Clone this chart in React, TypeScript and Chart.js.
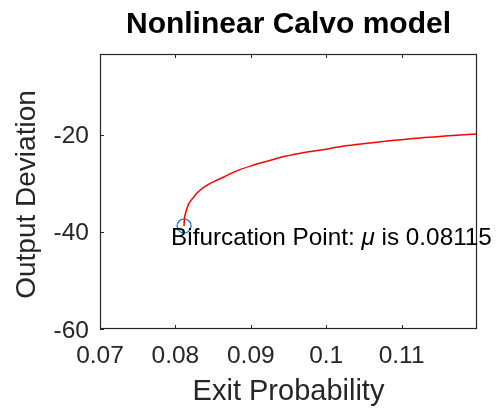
import React, { useEffect, useRef } from "react";
import { Chart, registerables } from "chart.js";

Chart.register(...registerables);

const exitProbability = [
  0.08115, 0.08117, 0.08135, 0.08157, 0.0818, 0.0823, 0.0829, 0.0838, 0.0851,
  0.0865, 0.0882, 0.0904, 0.0924, 0.094, 0.0966, 0.0993, 0.1024, 0.1055,
  0.109, 0.1116, 0.1147, 0.1178, 0.12,
];
const outputDeviation = [
  -38.76, -37.9, -36.1, -35.0, -34.1, -33.05, -31.9, -30.75, -29.6, -28.6,
  -27.35, -26.2, -25.3, -24.6, -23.77, -23.1, -22.27, -21.7, -21.1, -20.7,
  -20.35, -20.0, -19.8,
];
const bifurcationX = [0.08115];
const bifurcationY = [-38.76];
const xTicks = [0.07, 0.08, 0.09, 0.1, 0.11];
const xTickLabels = ["0.07", "0.08", "0.09", "0.1", "0.11"];
const yTicks = [-60, -40, -20];
const yTickLabels = ["-60", "-40", "-20"];
const titleText = "Nonlinear Calvo model";
const xLabel = "Exit Probability";
const yLabel = "Output Deviation";

const FONT = '"Liberation Sans", Arial, Helvetica, sans-serif';

const decorPlugin = {
  id: "decor",
  afterDraw(chart: any) {
    const { ctx, chartArea } = chart;
    const xs = chart.scales.x;
    const ys = chart.scales.y;
    const { left, right, top, bottom } = chartArea;
    ctx.save();
    // box
    ctx.strokeStyle = "#262626";
    ctx.lineWidth = 1.2;
    ctx.strokeRect(left + 0.5, top + 0.5, right - left - 1, bottom - top - 1);
    // ticks
    ctx.lineWidth = 1;
    ctx.beginPath();
    xTicks.forEach((v) => {
      const px = Math.round(xs.getPixelForValue(v)) + 0.5;
      ctx.moveTo(px, bottom);
      ctx.lineTo(px, bottom - 4);
      ctx.moveTo(px, top);
      ctx.lineTo(px, top + 4);
    });
    yTicks.forEach((v) => {
      const py = Math.round(ys.getPixelForValue(v)) + 0.5;
      ctx.moveTo(left, py);
      ctx.lineTo(left + 4, py);
    });
    ctx.stroke();

    // tick labels
    ctx.fillStyle = "#262626";
    ctx.font = `24.5px ${FONT}`;
    ctx.textBaseline = "alphabetic";
    ctx.textAlign = "center";
    xTicks.forEach((v, i) => {
      ctx.fillText(xTickLabels[i], xs.getPixelForValue(v), 363);
    });
    ctx.textAlign = "right";
    yTicks.forEach((v, i) => {
      ctx.fillText(yTickLabels[i], left - 11, ys.getPixelForValue(v) + 8.5);
    });

    // axis labels
    ctx.font = `29px ${FONT}`;
    ctx.textAlign = "center";
    ctx.fillText(xLabel, (left + right) / 2, 400);
    ctx.save();
    ctx.font = `28px ${FONT}`;
    ctx.translate(35, (top + bottom) / 2 + 3);
    ctx.rotate(-Math.PI / 2);
    ctx.fillText(yLabel, 0, 0);
    ctx.restore();

    // title
    ctx.fillStyle = "#000";
    ctx.font = `bold 30px ${FONT}`;
    ctx.fillText(titleText, (left + right) / 2, 33);

    // annotation
    const bx = xs.getPixelForValue(bifurcationX[0]);
    const by = ys.getPixelForValue(bifurcationY[0]);
    let tx = bx - 13;
    const ty = by + 19;
    ctx.textAlign = "left";
    const parts: [string, string][] = [
      ["Bifurcation Point: ", `24.3px ${FONT}`],
      ["\u03bc", `italic 24.3px ${FONT}`],
      [" is " + bifurcationX[0].toString(), `24.3px ${FONT}`],
    ];
    parts.forEach(([t, f]) => {
      ctx.font = f;
      ctx.fillText(t, tx, ty);
      tx += ctx.measureText(t).width;
    });
    ctx.restore();
  },
};

export default function App() {
  const ref = useRef<HTMLCanvasElement | null>(null);
  useEffect(() => {
    if (!ref.current) return;
    const chart = new Chart(ref.current, {
      type: "scatter",
      data: {
        datasets: [
          {
            data: exitProbability.map((x, i) => ({ x, y: outputDeviation[i] })),
            showLine: true,
            borderColor: "#ff0000",
            borderWidth: 1.5,
            pointRadius: 0,
            cubicInterpolationMode: "monotone",
          },
          {
            data: bifurcationX.map((x, i) => ({ x, y: bifurcationY[i] })),
            pointRadius: 7,
            pointStyle: "circle",
            borderColor: "#0072BD",
            backgroundColor: "rgba(0,0,0,0)",
            borderWidth: 1.2,
          },
        ],
      },
      options: {
        animation: false,
        responsive: true,
        maintainAspectRatio: false,
        layout: { padding: { left: 100, right: 20, top: 54, bottom: 79 } },
        plugins: {
          legend: { display: false },
          tooltip: { enabled: false },
        },
        scales: {
          x: { type: "linear", display: false, min: 0.07, max: 0.12 },
          y: { type: "linear", display: false, min: -60, max: -3.3 },
        },
      },
      plugins: [decorPlugin],
    });
    return () => chart.destroy();
  }, []);
  return (
    <div style={{ position: "absolute", left: 0, top: 0, width: 497, height: 408, background: "#fff" }}>
      <canvas ref={ref} />
    </div>
  );
}
